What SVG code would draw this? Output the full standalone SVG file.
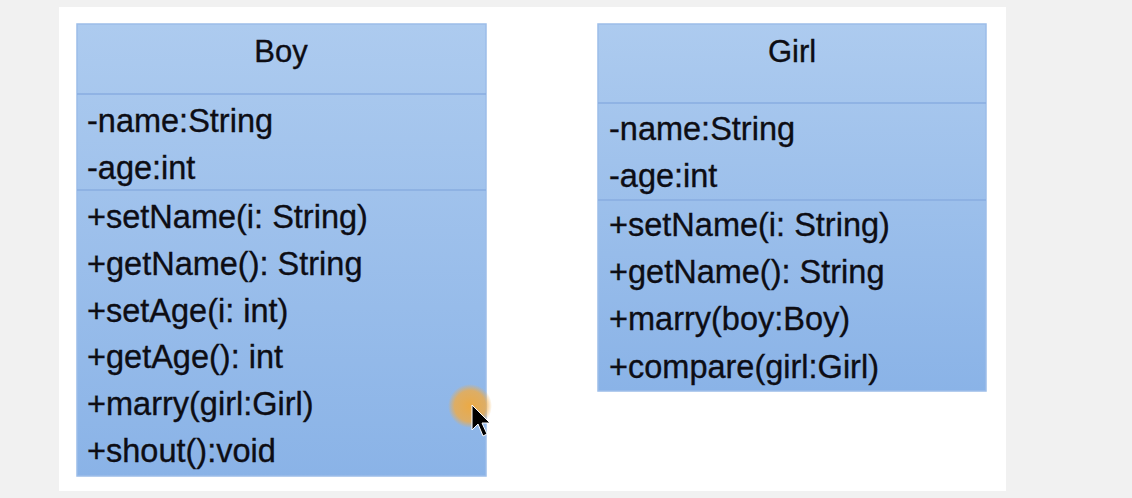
<svg xmlns="http://www.w3.org/2000/svg" width="1132" height="498" viewBox="0 0 1132 498">
<defs>
<linearGradient id="fill" x1="0" y1="0" x2="0" y2="1">
<stop offset="0" stop-color="#adcbef"/>
<stop offset="1" stop-color="#8ab3e7"/>
</linearGradient>
<radialGradient id="dot">
<stop offset="0" stop-color="#f0a93c" stop-opacity="0.95"/>
<stop offset="0.7" stop-color="#f0ab45" stop-opacity="0.8"/>
<stop offset="1" stop-color="#f0ab45" stop-opacity="0"/>
</radialGradient>
</defs>
<style>
.box{fill:url(#fill);stroke:#9cbde9;stroke-width:1.5}
.sep{stroke:#89ade0;stroke-width:1.5}
text{font-family:"Liberation Sans",Arial,sans-serif;font-size:32.5px;fill:#0d0d14;stroke:#0d0d14;stroke-width:0.35}
.title{text-anchor:middle;font-size:31px}
</style>
<rect x="0" y="0" width="1132" height="498" fill="#f1f1f1"/>
<rect x="59" y="7" width="947" height="484" fill="#ffffff"/>
<g id="Boy">
<rect class="box" x="77" y="24" width="409" height="452"/>
<line class="sep" x1="77" y1="94" x2="486" y2="94"/>
<line class="sep" x1="77" y1="190" x2="486" y2="190"/>
<text class="title" x="281" y="62">Boy</text>
<text x="87" y="132">-name:String</text>
<text x="87" y="179">-age:int</text>
<text x="87" y="228">+setName(i: String)</text>
<text x="87" y="275">+getName(): String</text>
<text x="87" y="322">+setAge(i: int)</text>
<text x="87" y="368">+getAge(): int</text>
<text x="87" y="415">+marry(girl:Girl)</text>
<text x="87" y="462">+shout():void</text>
</g>
<g id="Girl">
<rect class="box" x="598" y="24" width="388" height="367"/>
<line class="sep" x1="598" y1="103" x2="986" y2="103"/>
<line class="sep" x1="598" y1="200" x2="986" y2="200"/>
<text class="title" x="792" y="62">Girl</text>
<text x="609" y="140">-name:String</text>
<text x="609" y="187">-age:int</text>
<text x="609" y="236">+setName(i: String)</text>
<text x="609" y="283">+getName(): String</text>
<text x="609" y="330">+marry(boy:Boy)</text>
<text x="609" y="378">+compare(girl:Girl)</text>
</g>
<g id="connectors"></g>
<g id="cursor">
<circle cx="470" cy="406" r="22" fill="url(#dot)"/>
<polygon points="472,405 472,430 478,424 483,436 487,434 482,423 490,423" fill="#000" stroke="#fff" stroke-width="1"/>
</g>
</svg>
